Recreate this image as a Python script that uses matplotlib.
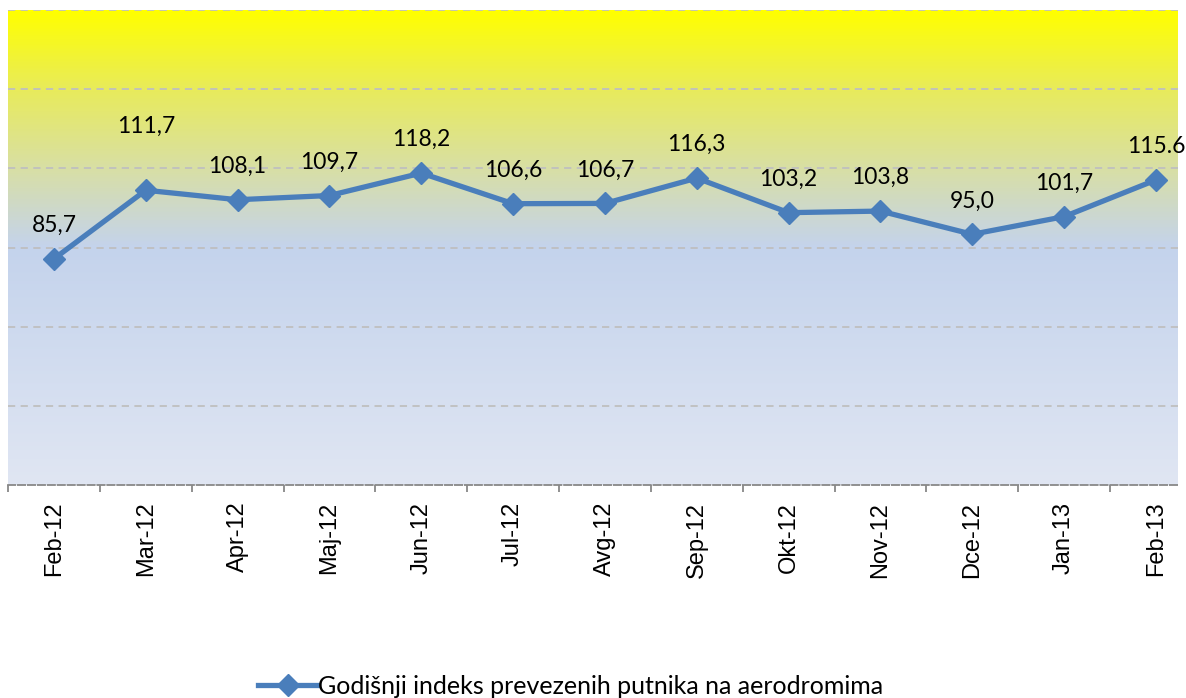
import numpy as np
import matplotlib
matplotlib.use("Agg")
import matplotlib.pyplot as plt
from matplotlib.colors import LinearSegmentedColormap
from matplotlib.lines import Line2D

months = ["Feb-12", "Mar-12", "Apr-12", "Maj-12", "Jun-12", "Jul-12", "Avg-12",
          "Sep-12", "Okt-12", "Nov-12", "Dce-12", "Jan-13", "Feb-13"]
index_values = [85.7, 111.7, 108.1, 109.7, 118.2, 106.6, 106.7,
                116.3, 103.2, 103.8, 95.0, 101.7, 115.6]
value_labels = ["85,7", "111,7", "108,1", "109,7", "118,2", "106,6", "106,7",
                "116,3", "103,2", "103,8", "95,0", "101,7", "115.6"]
legend_label = "Godišnji indeks prevezenih putnika na aerodromima"

line_color = "#4a7ebb"

fig = plt.figure(figsize=(11.86, 6.98), dpi=100)
ax = fig.add_axes([8 / 1186, 1 - 485 / 698, 1170 / 1186, 475 / 698])

x = np.arange(len(months))
xmin, xmax = -0.5, 12.24
ymin, ymax = 0, 180

# background gradient (value -> colour)
stops = [(0.0, (224, 230, 243)), (0.5, (196, 211, 236)), (0.56, (203, 215, 212)),
         (0.667, (216, 223, 165)), (0.833, (232, 235, 92)), (1.0, (255, 255, 0))]
cmap = LinearSegmentedColormap.from_list(
    "bg", [(p, tuple(c / 255 for c in col)) for p, col in stops])
grad = np.linspace(0, 1, 400).reshape(-1, 1)
ax.imshow(grad, aspect="auto", cmap=cmap, origin="lower",
          extent=[xmin, xmax, ymin, ymax], zorder=0)

ax.set_xlim(xmin, xmax)
ax.set_ylim(ymin, ymax)

for yv in range(30, 181, 30):
    ax.axhline(yv, color="#bfbfbf", lw=1.3, ls=(0, (4, 3)), zorder=1)

ax.plot(x, index_values, color=line_color, lw=3.8, marker="D", markersize=11,
        markeredgecolor=line_color, zorder=3, clip_on=False)

for i, (v, lab) in enumerate(zip(index_values, value_labels)):
    dy = 24
    if i == 1:
        dy = 46
    ax.annotate(lab, (x[i], v), xytext=(0, dy), textcoords="offset points",
                ha="center", va="center", fontsize=16.5, family="Lato",
                color="#000000", zorder=4)

for s in ["left", "right", "top"]:
    ax.spines[s].set_visible(False)
ax.spines["bottom"].set_color("#888888")
ax.spines["bottom"].set_linewidth(1.3)
ax.spines["bottom"].set_linestyle((0, (4, 1.5)))

ax.set_yticks([])
ax.set_xticks(x)
ax.set_xticklabels(months, rotation=90, fontsize=17, family="Liberation Sans")
ax.set_xticks(np.arange(-0.5, 12.5, 1.0), minor=True)
ax.tick_params(axis="x", which="major", length=0, pad=12)
ax.tick_params(axis="x", which="minor", length=5, color="#888888", width=1.3)

handle = Line2D([], [], color=line_color, lw=3.8, marker="D", markersize=11)
fig.legend([handle], [legend_label], loc="center", bbox_to_anchor=(0.481, 1 - 686 / 698),
           frameon=False, handlelength=2.4, handletextpad=0.0,
           prop={"family": "Lato", "size": 18})

fig.savefig("out.png", dpi=100)
